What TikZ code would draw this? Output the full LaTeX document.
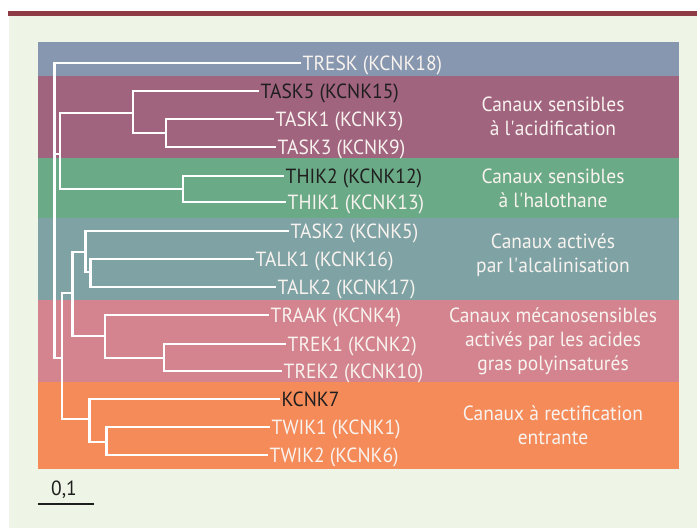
\documentclass[tikz,border=0pt]{standalone}
\usepackage{fontspec}
\setmainfont[FakeStretch=0.95]{PT Sans}
\definecolor{bgc}{HTML}{EEF4E6}
\definecolor{redline}{HTML}{8E3B46}
\definecolor{bandA}{HTML}{8797AF}
\definecolor{bandB}{HTML}{A1647F}
\definecolor{bandC}{HTML}{6BAA86}
\definecolor{bandD}{HTML}{7FA3A5}
\definecolor{bandE}{HTML}{D4848E}
\definecolor{bandF}{HTML}{F58B59}
\definecolor{lighttxt}{HTML}{F8F3EF}
\definecolor{darktxt}{HTML}{1E1E1E}
\newcommand\leaffont{\fontsize{20.5}{24}\selectfont}
\newcommand\catfont{\fontsize{20.5}{24}\selectfont}
\newcommand\apos{\textquotesingle}
\begin{document}
\begin{tikzpicture}[x=1pt,y=-1pt,
  branch/.style={draw=white, line width=2.4pt, line cap=rect},
  leaf/.style={anchor=west, inner xsep=2.5pt, inner ysep=0pt, text height=14pt, text depth=0pt, font=\leaffont, text=lighttxt},
  darkleaf/.style={leaf, text=darktxt},
  cat/.style={align=center, font=\catfont, text=lighttxt, inner sep=0pt},
  band/.style={fill=#1, draw=none}]
\useasboundingbox (0,0) rectangle (697,528);
\fill[white] (0,0) rectangle (697,528);
\fill[bgc] (9,16) rectangle (697,528);
\fill[redline] (7.5,11) rectangle (697,16);
% bands
\path[band=bandA] (38,42) rectangle (679,76);
\path[band=bandB] (38,76) rectangle (679,158);
\path[band=bandC] (38,158) rectangle (679,218);
\path[band=bandD] (38,218) rectangle (679,300);
\path[band=bandE] (38,300) rectangle (679,382);
\path[band=bandF] (38,382) rectangle (679,469);
% leaves
\node[leaf] (tresk) at (300,63) {TRESK (KCNK18)};
\node[darkleaf] (task5) at (258,91) {TASK5 (KCNK15)};
\node[leaf] (task1) at (273,119) {TASK1 (KCNK3)};
\node[leaf] (task3) at (275,147) {TASK3 (KCNK9)};
\node[darkleaf] (thik2) at (283,176) {THIK2 (KCNK12)};
\node[leaf] (thik1) at (285,202) {THIK1 (KCNK13)};
\node[leaf] (task2) at (288,231) {TASK2 (KCNK5)};
\node[leaf] (talk1) at (253,259) {TALK1 (KCNK16)};
\node[leaf] (talk2) at (275,287) {TALK2 (KCNK17)};
\node[leaf] (traak) at (268,315) {TRAAK (KCNK4)};
\node[leaf] (trek1) at (285,344) {TREK1 (KCNK2)};
\node[leaf] (trek2) at (281,371) {TREK2 (KCNK10)};
\node[darkleaf] (kcnk7) at (279,399) {KCNK7};
\node[leaf] (twik1) at (269,427) {TWIK1 (KCNK1)};
\node[leaf] (twik2) at (267,455) {TWIK2 (KCNK6)};
% internal nodes
\coordinate (root) at (54.5,154);
\coordinate (nTT) at (60,154);
\coordinate (nTASK) at (133,113);
\coordinate (nT13) at (166,133);
\coordinate (nTHIK) at (183,189);
\coordinate (nRest) at (62,358);
\coordinate (nAM) at (72.5,293);
\coordinate (nALK) at (85.5,252);
\coordinate (nTALK) at (90.5,272);
\coordinate (nMECH) at (105,336);
\coordinate (nTREK) at (164,358);
\coordinate (nRECT) at (89.5,419);
\coordinate (nTWIK) at (106.5,442);
% branches
\draw[branch] (tresk.west) -| (root) -- (nTT);
\draw[branch] (root) |- (nRest);
\draw[branch] (nTASK) -| (nTT) |- (nTHIK);
\draw[branch] (task5.west) -| (nTASK) |- (nT13);
\draw[branch] (task1.west) -| (nT13) |- (task3.west);
\draw[branch] (thik2.west) -| (nTHIK) |- (thik1.west);
\draw[branch] (nAM) -| (nRest) |- (nRECT);
\draw[branch] (nALK) -| (nAM) |- (nMECH);
\draw[branch] (task2.west) -| (nALK) |- (nTALK);
\draw[branch] (talk1.west) -| (nTALK) |- (talk2.west);
\draw[branch] (traak.west) -| (nMECH) |- (nTREK);
\draw[branch] (trek1.west) -| (nTREK) |- (trek2.west);
\draw[branch] (kcnk7.west) -| (nRECT) |- (nTWIK);
\draw[branch] (twik1.west) -| (nTWIK) |- (twik2.west);
% category labels
\node[cat] (cA) at (553,116) {Canaux sensibles\\à l\apos acidification};
\node[cat] (cB) at (553,188.5) {Canaux sensibles\\à l\apos halothane};
\node[cat] (cC) at (553,255) {Canaux activés\\par l\apos alcalinisation};
\node[cat] (cD) at (553,341) {Canaux mécanosensibles\\activés par les acides\\gras polyinsaturés};
\node[cat] (cE) at (553,425) {Canaux à rectification\\entrante};
% scale
\coordinate (sb1) at (38,504);
\coordinate (sb2) at (94,504);
\draw[line width=2.4pt, draw=darktxt] (sb1) -- (sb2);
\node[font=\leaffont, text=darktxt, anchor=south, inner sep=0pt, text height=14pt, text depth=0pt] (scl) at (64,496) {0,1};
\end{tikzpicture}
\end{document}
